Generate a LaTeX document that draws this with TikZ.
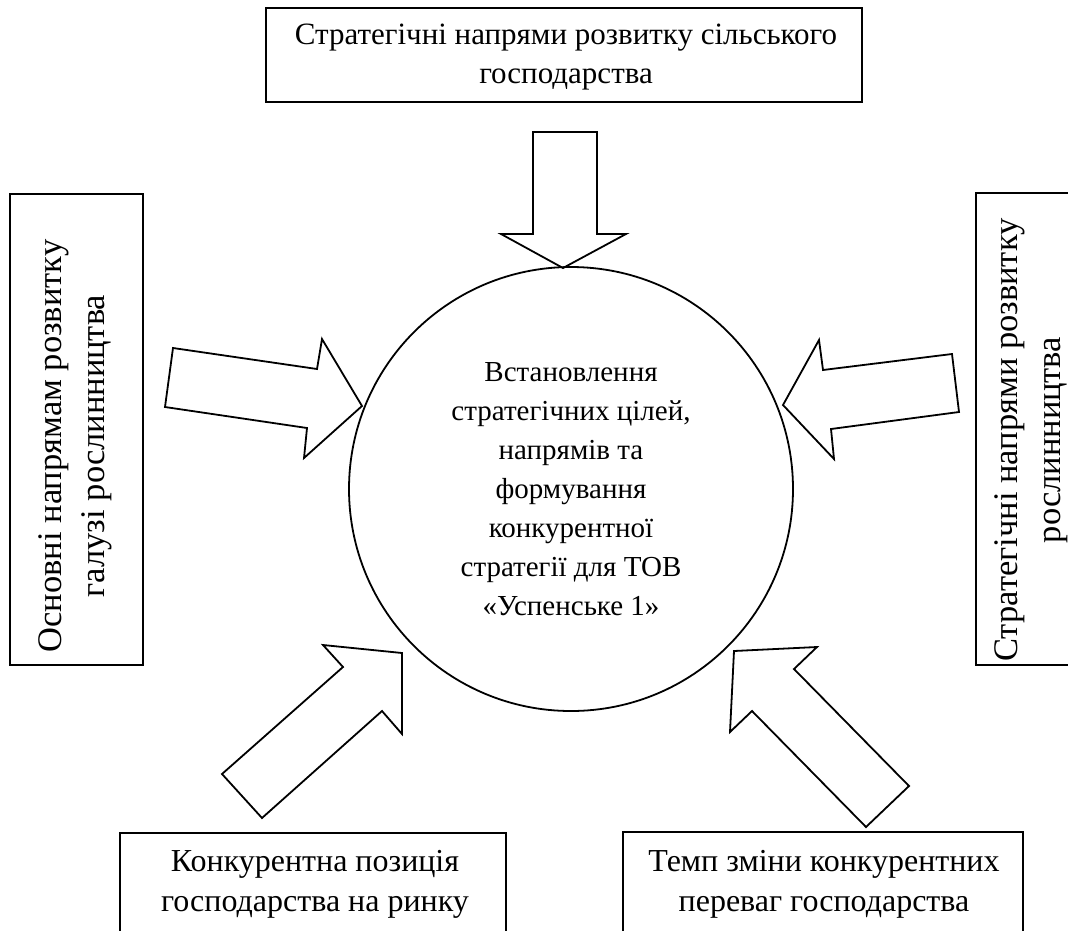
\documentclass[tikz,border=0pt]{standalone}
\usepackage{fontspec}
\setmainfont{Liberation Serif}
\begin{document}
\begin{tikzpicture}[x=1pt,y=-1pt,line join=miter,
  box/.style={draw,line width=2.2pt},
  barrow/.style={draw,line width=1.8pt},
  txt/.style={font=\fontsize{29}{39}\selectfont,align=center,inner sep=0pt},
  toptxt/.style={font=\fontsize{31}{39}\selectfont,align=center,inner sep=0pt},
  bottxt/.style={font=\fontsize{32}{40}\selectfont,align=center,inner sep=0pt},
  sidetxt/.style={font=\fontsize{34.5}{43}\selectfont,align=center,inner sep=0pt,rotate=90}]
\useasboundingbox (0,0) rectangle (1068,930);
\clip (0,0) rectangle (1068,930);
% boxes
\draw[box] (266,8) rectangle (862,102);
\draw[box] (10,194) rectangle (143,665);
\draw[box] (976,193) rectangle (1090,665);
\draw[box] (120,833) rectangle (506,960);
\draw[box] (623,832) rectangle (1023,960);
% texts
\node[toptxt] (top) at (566,57) {Стратегічні напрями розвитку сільського\\господарства};
\node[sidetxt] (left) at (75,446) {Основні напрямам розвитку\\галузі рослинництва};
\node[sidetxt] (right) at (1031,440) {Стратегічні напрями розвитку\\рослинництва};
\node[bottxt] (bl) at (315,884) {Конкурентна позиція\\господарства на ринку};
\node[bottxt] (br) at (824,884) {Темп зміни конкурентних\\переваг господарства};
% circle
\node[draw,circle,minimum size=444pt,line width=1.8pt,txt] (goal) at (571,489) {Встановлення\\стратегічних цілей,\\напрямів та\\формування\\конкурентної\\стратегії для ТОВ\\«Успенське 1»};
% block arrows
\draw[barrow] (533,132) -- (597,132) -- (597,234) -- (626,234) -- (563,268) -- (501,234) -- (533,234) -- cycle;
\draw[barrow] (173,348) -- (317,369) -- (322,339) -- (362,406) -- (304,458) -- (307,428) -- (165,407) -- cycle;
\draw[barrow] (952,354) -- (823,370) -- (819,340) -- (783,405) -- (834,459) -- (831,429) -- (959,412) -- cycle;
\draw[barrow] (222,774) -- (343,667) -- (323,645) -- (402,653) -- (402,734) -- (382,711) -- (262,818) -- cycle;
\draw[barrow] (909,786) -- (794,669) -- (817,647) -- (734,651) -- (730,732) -- (752,711) -- (866,827) -- cycle;
\end{tikzpicture}
\end{document}
